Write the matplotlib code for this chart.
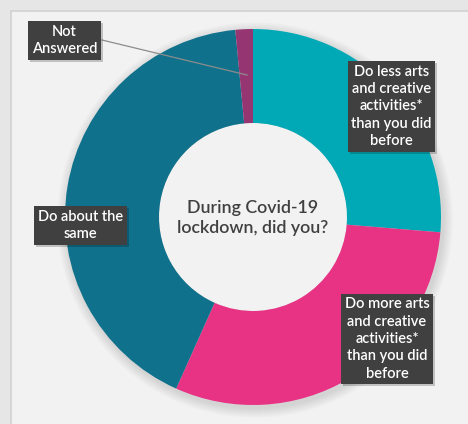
import matplotlib
matplotlib.use("Agg")
import matplotlib.pyplot as plt
from matplotlib.patches import Rectangle, Circle

plt.rcParams['font.family'] = ['Lato', 'DejaVu Sans']

# survey answers, share of respondents (%)
answers = [
    "Do less arts\nand creative\nactivities*\nthan you did\nbefore",
    "Do more arts\nand creative\nactivities*\nthan you did\nbefore",
    "Do about the\nsame",
    "Not\nAnswered",
]
shares = [26.3, 30.4, 41.8, 1.5]
colours = ["#00a9b5", "#e83385", "#0f718b", "#953673"]
centre_title = "During Covid-19\nlockdown, did you?"

W, H = 468, 424
CX, CY = 253, H - 217
R_OUT = 188
RING = 94
PANEL = "#f2f2f2"


def py(y):
    # pixel rows counted from the top
    return H - y


fig = plt.figure(figsize=(W / 100, H / 100), dpi=100)
fig.patch.set_facecolor("#e6e6e6")
ax = fig.add_axes([0, 0, 1, 1])

# chart panel
ax.add_patch(Rectangle((10.5, -5), W, py(10.5) + 5, facecolor=PANEL,
                       edgecolor="#d2d2d2", linewidth=1.2, zorder=0))

# soft shadow under the ring
for i in range(10):
    ax.add_patch(Circle((CX + 2, CY - 3), R_OUT + 10 - i, facecolor="#000000",
                        alpha=0.012, edgecolor="none", zorder=1))

wedges, _ = ax.pie(shares, colors=colours, startangle=90, counterclock=False,
                   center=(CX, CY), radius=R_OUT, frame=True,
                   wedgeprops=dict(width=RING, edgecolor="none"))
for w in wedges:
    w.set_zorder(2)
# hole of the doughnut
ax.add_patch(Circle((CX, CY), R_OUT - RING, facecolor=PANEL, edgecolor="none",
                    zorder=1.5))
ax.set_xlim(0, W)
ax.set_ylim(0, H)
ax.set_aspect("equal")
ax.axis("off")

ax.text(CX, py(218), centre_title, ha="center", va="center", fontsize=12.8,
        fontweight="semibold", color="#404040", linespacing=1.3, zorder=5)

# label boxes (centre in pixels from top-left)
label_pos = [(391.5, 106.5), (387, 339), (80.5, 225.5), (64.5, 40.5)]
labels = []
for text, (x, y) in zip(answers, label_pos):
    t = ax.text(x, py(y), text, ha="center", va="center", fontsize=10.5,
                fontweight="semibold", linespacing=1.3, color="white",
                zorder=7,
                bbox=dict(boxstyle="square,pad=0.25", facecolor="#404040",
                          edgecolor="none"))
    labels.append(t)

# drop shadows behind the label boxes
fig.canvas.draw()
inv = ax.transData.inverted()
for t in labels:
    ext = t.get_bbox_patch().get_window_extent()
    (x0, y0), (x1, y1) = inv.transform([[ext.x0, ext.y0], [ext.x1, ext.y1]])
    ax.add_patch(Rectangle((x0 + 2, y0 - 2), x1 - x0, y1 - y0,
                           facecolor="#000000", alpha=0.2, edgecolor="none",
                           zorder=6))

# leader line for the small slice
ax.plot([102, 247], [py(40), py(75)], color="#8c8c8c", linewidth=0.9, zorder=4)

fig.savefig("out.png", dpi=100, facecolor=fig.get_facecolor())
